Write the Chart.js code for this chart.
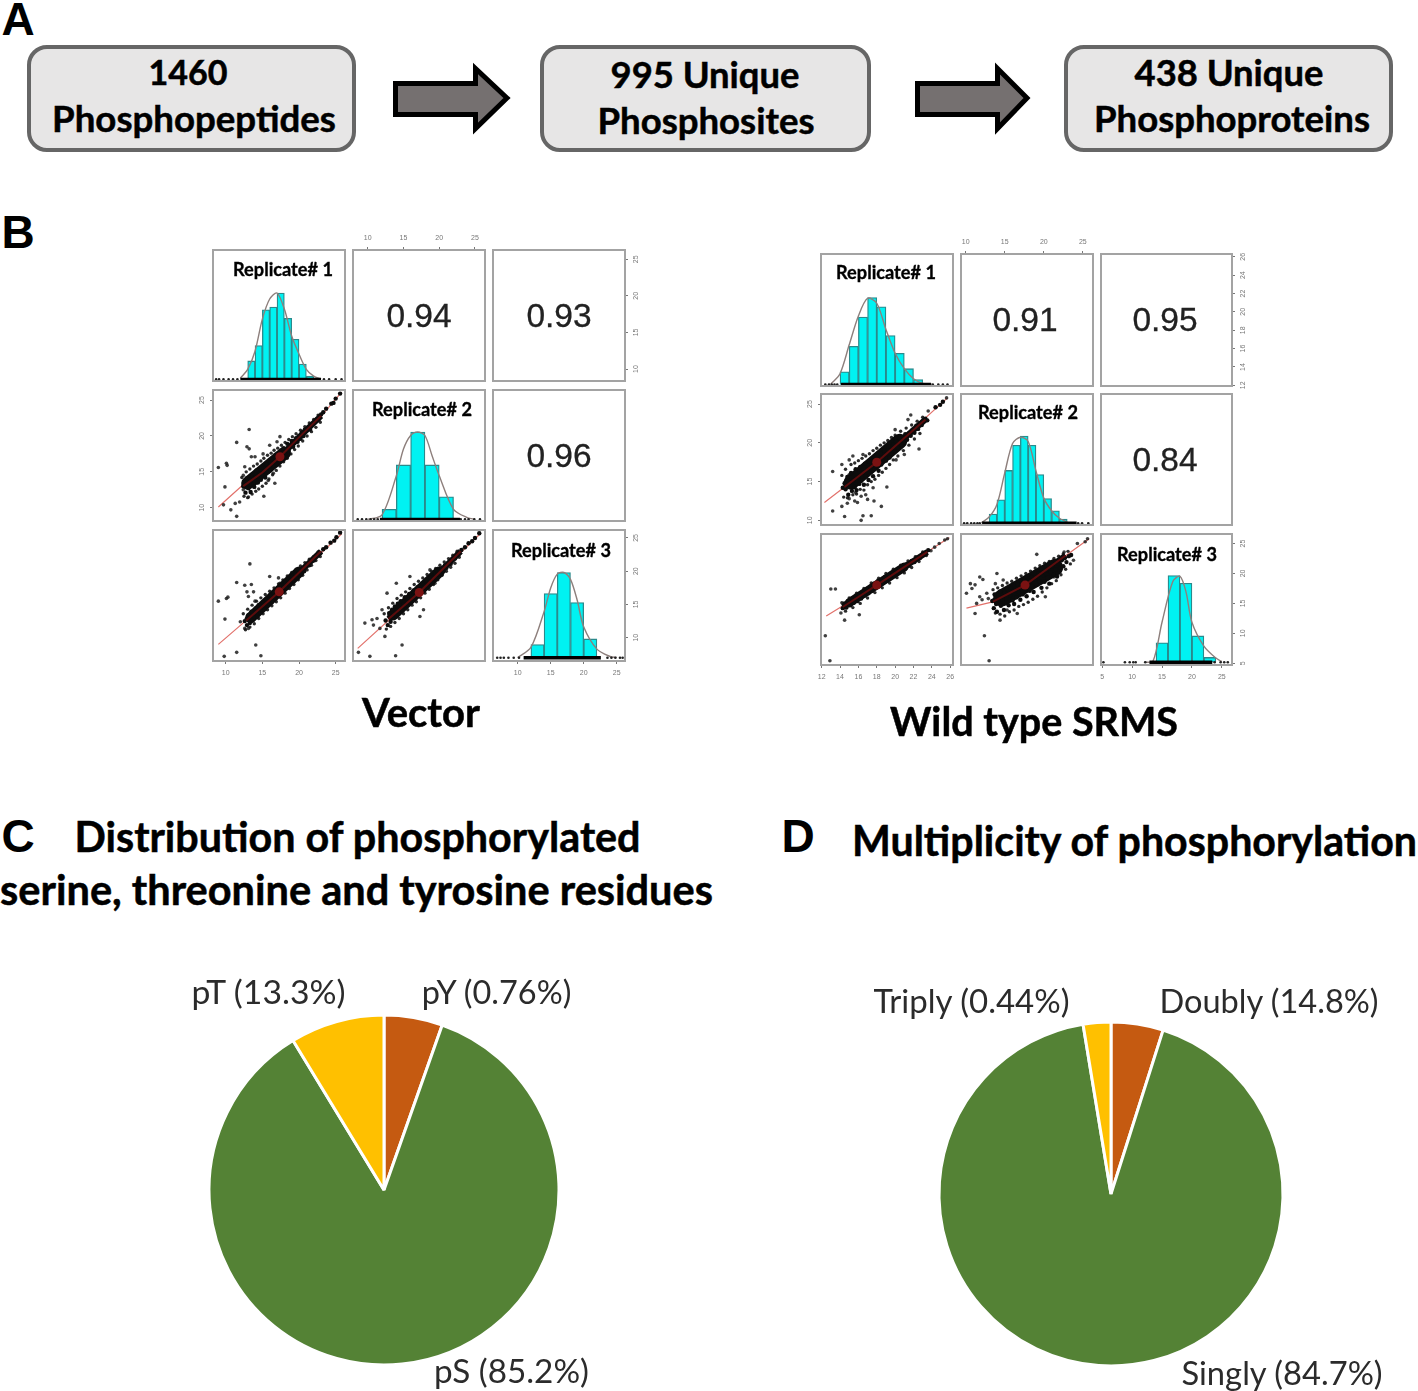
<!DOCTYPE html>
<html>
<head>
<meta charset="utf-8">
<title>Phosphoproteomics overview</title>
<script src="https://cdn.jsdelivr.net/npm/chart.js@4"></script>
<style>
  html, body { margin: 0; padding: 0; background: #fff; }
  #page { position: relative; width: 1418px; height: 1391px; overflow: hidden; background: #fff; }
  #page canvas { position: absolute; }
  .panel { filter: blur(0.7px); }
  .txt { position: absolute; white-space: nowrap; line-height: 1; transform: translate(-50%, -50%); }
  .box { position: absolute; box-sizing: border-box; top: 45px; height: 107px; background: #e7e6e6; border: 4px solid #666; border-radius: 20px; }
  svg { position: absolute; left: 0; top: 0; }
</style>
</head>
<body>
<div id="page">
  <div class="box" style="left:27px;width:329px"></div>
  <div class="box" style="left:540px;width:331px"></div>
  <div class="box" style="left:1064px;width:329px"></div>
  <svg width="1418" height="160">
    <path d="M395.5 83.5 H475.5 V68.5 L507 98 L475.5 128.5 V114.5 H395.5 Z" fill="#757070" stroke="#000" stroke-width="5"/>
    <path d="M917.5 83.5 H997.5 V68.5 L1027 98 L997.5 128.5 V114.5 H917.5 Z" fill="#757070" stroke="#000" stroke-width="5"/>
  </svg>
</div>
<script>
// ---- panel A, titles and labels: text, centre x, centre y, width
var flowLabels = [
  ["1460", 188, 72, 79], ["Phosphopeptides", 194, 118, 284],
  ["995 Unique", 705, 74, 189], ["Phosphosites", 706, 120, 217],
  ["438 Unique", 1229, 72, 189], ["Phosphoproteins", 1232, 118, 276],
  ["Vector", 421, 712, 118], ["Wild type SRMS", 1034, 721, 288],
  ["Distribution of phosphorylated", 357.5, 837, 567],
  ["serine, threonine and tyrosine residues", 356.5, 890, 713],
  ["Multiplicity of phosphorylation", 1134.5, 841, 567]
];
var panelLetters = [["A", 18, 19], ["B", 18, 232], ["C", 18, 836], ["D", 798, 836]];
var pieLabels = [
  ["pT (13.3%)", 268.5, 992, 155], ["pY (0.76%)", 496.5, 992, 151], ["pS (85.2%)", 511.5, 1371, 155],
  ["Triply (0.44%)", 971.5, 1001, 197], ["Doubly (14.8%)", 1269, 1001, 220], ["Singly (84.7%)", 1282, 1373, 202]
];
var replicateLabels = [
  ["Replicate# 1", 283, 269], ["Replicate# 2", 422, 409], ["Replicate# 3", 561, 550],
  ["Replicate# 1", 886, 272], ["Replicate# 2", 1028, 412], ["Replicate# 3", 1167, 554]
];
var corrLabels = [
  ["0.94", 419, 316], ["0.93", 559, 316], ["0.96", 559, 456],
  ["0.91", 1025, 320], ["0.95", 1165, 320], ["0.84", 1165, 460]
];

// ---- pies, slice sizes as drawn, clockwise from 12 o'clock
var pieColors = ["#C55A11", "#548235", "#FFC000"];
var residueSlices = [5.4, 85.9, 8.7];
var multiplicitySlices = [4.9, 92.5, 2.6];

// ---- axis ticks
var ticks5 = [10, 15, 20, 25];
var wildCol1Ticks = [12, 14, 16, 18, 20, 22, 24, 26];
var wildCol3Ticks = [5, 10, 15, 20, 25];

// ---- histograms: bin centres, counts, density curve
var vec1Bins = [13.5, 14.5, 15.5, 16.5, 17.5, 18.5, 19.5, 20.5, 21.5];
var vec1Counts = [46, 84, 173, 180, 215, 152, 100, 38, 8];
var vec1Curve = [[12, 3], [13, 25], [14, 70], [15, 150], [16, 200], [17, 215], [18, 175], [19, 108], [20, 63], [21, 25], [22, 8], [23, 1]];
var vec1Rug = [8.7, 9.1, 9.7, 10.4, 11.0, 11.6, 23.4, 24.1, 25.0, 25.8];
var vec1Band = [[12.0, 0], [23.0, 0]];

var vec2Bins = [13, 15, 17, 19, 21];
var vec2Counts = [44, 237, 380, 237, 98];
var vec2Curve = [[10, 0], [12, 20], [14, 190], [15, 306], [16, 365], [17, 380], [18, 365], [19, 277], [20, 190], [22, 44], [24, 7], [25, 1]];
var vec2Rug = [8.6, 9.2, 9.8, 10.4, 10.9, 11.4, 23.0, 23.6, 24.1, 24.9, 25.7];
var vec2Band = [[11.7, 0], [22.9, 0]];

var vec3Bins = [13, 15, 17, 19, 21];
var vec3Counts = [55, 270, 359, 232, 79];
var vec3Curve = [[10, 0], [12, 43], [14, 194], [15, 294], [16, 352], [17, 359], [18, 330], [19, 244], [20, 130], [22, 36], [24, 5], [25, 1]];
var vec3Rug = [6.9, 7.4, 7.9, 8.6, 9.4, 10.2, 23.6, 24.2, 24.8, 25.5, 25.9];
var vec3Band = [[10.9, 0], [22.6, 0]];

var wild1Bins = [14.5, 15.5, 16.5, 17.5, 18.5, 19.5, 20.5, 21.5, 22.5];
var wild1Counts = [33, 99, 175, 226, 202, 127, 81, 41, 13];
var wild1Curve = [[13, 1], [14, 28], [15, 103], [16, 178], [17, 224], [18, 211], [19, 143], [20, 81], [21, 41], [22, 15], [23, 3], [24, 1]];
var wild1Rug = [12.4, 12.8, 13.1, 13.4, 13.7, 24.1, 24.7, 25.2, 25.7];
var wild1Band = [[14.1, 0], [23.9, 0]];

var wild2Bins = [13.5, 14.5, 15.5, 16.5, 17.5, 18.5, 19.5, 20.5, 21.5, 22.5];
var wild2Counts = [22, 56, 126, 186, 208, 186, 116, 59, 30, 10];
var wild2Curve = [[12, 1], [13, 15], [14, 45], [15, 120], [16, 190], [17, 205], [18, 195], [19, 125], [20, 60], [21, 30], [22, 12], [23, 3]];
var wild2Rug = [9.8, 10.2, 10.7, 11.1, 11.5, 11.8, 24.4, 24.9, 25.7];
var wild2Band = [[12.1, 0], [24.2, 0]];

var wild3Bins = [15, 17, 19, 21, 23];
var wild3Counts = [89, 399, 364, 121, 22];
var wild3Curve = [[12, 0], [13.5, 5], [15, 184], [16.8, 372], [18, 396], [19, 325], [20, 184], [22, 74], [24, 19], [25, 3]];
var wild3Rug = [5.2, 8.8, 9.6, 10.2, 10.6, 12.2, 23.8, 24.8, 25.4, 26.0];
var wild3Band = [[12.9, 0], [23.4, 0]];

// ---- scatters: isolated points, the dense cloud and its edge
var v21Out = [[9.0,15.6],[9.9,12.9],[10.1,16.2],[10.2,15.9],[11.5,19.1],[13.2,20.9],[10.7,9.7],[11.5,8.8],[9.7,10.4],[11.3,10.6],[11.9,10.8],[13.1,11.5],[15.2,11.6],[12.4,12.5],[12.9,18.5],[13.2,18.2],[16.0,18.7],[15.1,17.5],[17.0,19.2],[17.4,19.9],[12.4,14.5],[12.6,15.7],[13.5,17.1],[14.0,17.1],[14.2,13.4],[15.8,13.8],[16.5,14.8],[16.7,13.4]];
var v21Core = [[12.4,13.0],[12.7,12.1],[12.9,14.1],[13.1,12.7],[13.3,13.9],[13.4,12.2],[13.6,14.6],[13.8,13.2],[13.9,12.9],[14.1,14.3],[14.2,15.2],[14.4,13.5],[14.6,14.8],[14.8,13.9],[14.9,15.6],[15.1,14.5],[15.3,15.1],[15.4,14.2],[15.6,16.0],[15.8,15.0],[16.0,15.8],[16.1,15.2],[16.3,16.7],[16.5,15.9],[16.7,16.4],[16.8,17.4],[17.0,16.1],[17.2,17.0],[17.4,17.7],[17.5,16.6],[17.7,17.3],[17.9,18.3],[18.1,17.4],[18.3,18.0],[18.4,18.9],[18.6,17.9],[18.8,18.5],[19.0,19.3],[19.2,18.5],[19.4,19.1],[19.6,19.7],[19.8,19.2],[20.0,20.0],[20.2,19.6],[20.4,20.5],[20.6,20.0],[20.8,20.9],[21.0,20.7],[21.3,21.3],[21.5,20.9],[21.8,21.7],[22.1,21.9],[22.4,22.3],[22.7,22.4],[23.0,23.0],[23.3,23.3],[23.7,23.8],[24.4,24.5],[24.7,24.6],[25.0,25.2],[25.6,25.9]];
var v21Edge = [[12.2,14.2],[12.5,11.6],[12.8,15.0],[13.0,11.4],[13.3,15.4],[13.6,11.9],[13.8,15.8],[14.1,12.3],[14.3,16.1],[14.5,12.6],[14.8,16.5],[15.0,13.0],[15.2,16.9],[15.5,13.4],[15.7,17.3],[15.9,14.0],[16.2,17.6],[16.4,14.6],[16.6,18.0],[16.9,15.2],[17.1,18.3],[17.4,15.8],[17.6,18.7],[17.9,16.4],[18.1,19.1],[18.4,16.9],[18.6,19.5],[18.9,17.5],[19.1,19.9],[19.4,18.1],[19.6,20.3],[19.9,18.6],[20.2,20.8],[20.5,19.3],[20.8,21.3],[21.1,20.0],[21.4,21.8],[21.7,20.6],[22.0,22.3],[22.3,21.2],[22.6,22.9],[22.9,21.9]];
var v21Spine = [[12.4,13],[15,14.9],[17.4,17.1],[20,19.8],[23,22.8]];
var v21Body = [[13,13.4],[18,17.6]];
var v21Fit = [[9,10.1],[12.6,13.4],[17.4,17.1],[22.9,22.6],[25.8,26.1]];
var v21Mean = [[17.4,17.1]];

var v31Out = [[9.0,15.5],[9.9,12.8],[10.1,15.9],[10.3,16.1],[11.5,18.3],[13.3,21.1],[9.8,7.2],[11.5,7.8],[14.1,8.9],[14.8,7.3],[12.6,17.9],[13.5,18.0],[12.9,16.9],[13.8,16.9],[13.1,16.2],[14.0,15.5],[12.0,12.4],[12.6,11.4],[13.1,11.4],[16.0,19.2],[17.2,19.0],[17.4,18.2]];
var v31Core = [[12.6,12.5],[12.9,11.9],[13.1,13.4],[13.3,12.2],[13.5,13.9],[13.7,12.7],[13.9,13.1],[14.1,14.4],[14.3,13.2],[14.5,14.9],[14.7,13.8],[14.9,14.2],[15.1,15.3],[15.3,14.3],[15.5,15.7],[15.7,14.9],[15.9,15.2],[16.1,16.4],[16.3,15.4],[16.5,16.8],[16.7,16.0],[16.9,16.4],[17.1,17.5],[17.3,16.4],[17.5,17.9],[17.7,17.0],[17.9,17.6],[18.1,18.5],[18.3,17.5],[18.5,18.8],[18.7,18.0],[18.9,18.6],[19.1,19.3],[19.3,18.6],[19.5,19.6],[19.7,19.0],[19.9,19.5],[20.1,20.2],[20.3,19.7],[20.5,20.5],[20.7,20.0],[20.9,20.6],[21.1,21.1],[21.4,20.9],[21.7,21.5],[22.0,21.6],[22.3,22.3],[22.6,22.4],[22.9,22.7],[23.3,23.3],[23.7,23.6],[24.3,24.3],[24.8,24.6],[25.1,25.1],[25.6,25.8]];
var v31Edge = [[12.4,13.6],[12.7,11.2],[13.0,14.3],[13.3,11.6],[13.6,14.9],[13.9,12.1],[14.2,15.5],[14.5,12.9],[14.8,16.0],[15.1,13.6],[15.4,16.5],[15.7,14.2],[16.0,17.0],[16.3,14.8],[16.6,17.5],[16.9,15.4],[17.2,18.1],[17.5,16.0],[17.8,18.7],[18.1,16.7],[18.4,19.3],[18.7,17.4],[19.0,19.8],[19.3,18.0],[19.6,20.3],[19.9,18.7],[20.2,20.8],[20.5,19.4],[20.8,21.3],[21.1,20.2],[21.4,21.8],[21.7,20.9],[22.0,22.2],[22.3,21.6],[22.6,22.9],[22.9,22.2]];
var v31Spine = [[12.8,12.6],[17.3,16.9],[23,23]];
var v31Body = [[13.4,13],[20,19.9]];
var v31Fit = [[9,9],[17.3,16.9],[25.8,25.6]];
var v31Mean = [[17.3,16.9]];

var v32Out = [[8.7,7.8],[10.3,7.2],[13.9,7.3],[14.8,8.9],[12.4,10.2],[9.6,12.2],[10.6,12.7],[10.8,11.9],[11.7,11.4],[11.3,12.9],[12.0,14.2],[12.7,16.7],[14.0,18.2],[15.9,19.2],[18.7,20.2],[19.4,18.2],[17.8,14.2],[17.3,13.2]];
var v32Core = [[12.5,12.6],[12.8,11.9],[13.0,13.7],[13.2,12.4],[13.4,14.2],[13.6,13.0],[13.8,14.7],[14.0,13.3],[14.2,15.1],[14.4,13.9],[14.6,15.5],[14.8,14.3],[15.0,15.0],[15.2,16.1],[15.4,14.8],[15.6,15.7],[15.8,16.6],[16.0,15.3],[16.2,16.3],[16.4,17.1],[16.6,15.9],[16.8,16.8],[17.0,17.6],[17.2,16.4],[17.4,17.2],[17.6,18.1],[17.8,17.0],[18.0,17.8],[18.2,18.6],[18.4,17.7],[18.6,18.3],[18.8,19.1],[19.0,18.3],[19.2,18.9],[19.4,19.6],[19.6,19.0],[19.8,19.5],[20.0,20.1],[20.2,19.6],[20.4,20.5],[20.6,20.0],[20.8,20.9],[21.0,20.5],[21.3,21.3],[21.6,21.1],[21.9,21.8],[22.2,21.9],[22.5,22.6],[22.8,22.7],[23.1,23.2],[23.6,23.6],[24.1,24.2],[24.6,24.5],[25.0,25.0],[25.6,25.7]];
var v32Edge = [[12.3,13.6],[12.6,11.3],[12.9,14.5],[13.2,11.7],[13.5,15.2],[13.8,12.3],[14.1,15.9],[14.4,12.9],[14.7,16.4],[15.0,13.6],[15.3,16.9],[15.6,14.2],[15.9,17.4],[16.2,14.9],[16.5,18.0],[16.8,15.4],[17.1,18.5],[17.4,16.0],[17.7,19.0],[18.0,16.7],[18.3,19.5],[18.6,17.3],[18.9,20.0],[19.2,18.0],[19.5,20.4],[19.8,18.7],[20.1,20.9],[20.4,19.4],[20.7,21.4],[21.0,20.0],[21.3,21.9],[21.6,20.6],[21.9,22.4],[22.2,21.2],[22.5,23.0],[22.8,22.1]];
var v32Spine = [[12.9,12.8],[17.2,16.8],[23,23]];
var v32Body = [[13.5,13.4],[20,19.9]];
var v32Fit = [[8.6,8.4],[17.2,16.8],[25.7,25.6]];
var v32Mean = [[17.2,16.8]];

var w21Out = [[13.2,16.3],[14.2,17.2],[13.2,11.2],[14.2,11.8],[14.5,10.5],[14.8,12.2],[15.0,12.8],[15.6,12.5],[15.9,12.3],[16.3,13.1],[16.8,13.3],[17.7,12.5],[18.5,11.8],[16.3,10.0],[16.5,10.6],[17.4,10.6],[19.1,14.3],[20.1,17.8],[21.0,18.5],[22.6,19.2],[20.0,21.7],[21.4,23.0],[21.7,23.6],[23.6,24.1],[25.6,25.8],[15.0,17.8],[15.4,18.3],[16.5,18.5],[15.7,13.6],[17.0,12.7],[17.6,14.2]];
var w21Core = [[14.3,14.2],[14.5,14.8],[14.6,14.0],[14.8,15.6],[14.9,13.3],[15.1,14.9],[15.2,16.1],[15.3,13.8],[15.5,15.2],[15.6,14.3],[15.7,16.6],[15.8,13.9],[16.0,15.6],[16.1,14.7],[16.2,16.9],[16.3,15.1],[16.5,16.2],[16.6,14.6],[16.7,17.3],[16.8,15.7],[17.0,16.6],[17.1,15.2],[17.2,17.6],[17.4,16.3],[17.5,17.0],[17.6,15.7],[17.8,18.1],[17.9,16.9],[18.1,17.6],[18.2,16.4],[18.4,18.6],[18.5,17.2],[18.7,18.0],[18.8,19.0],[19.0,17.7],[19.1,18.5],[19.3,19.5],[19.4,18.1],[19.6,19.0],[19.8,19.8],[20.0,18.9],[20.1,20.2],[20.3,19.4],[20.5,20.6],[20.7,19.8],[20.9,20.3],[21.1,21.1],[21.3,20.4],[21.5,21.2],[21.7,20.9],[21.9,21.7],[22.1,21.3],[22.3,22.2],[22.5,21.8],[22.7,22.5],[22.9,22.3],[23.1,22.9],[23.3,23.1],[23.5,22.9],[24.4,24.6],[24.9,24.9],[25.2,25.3]];
var w21Edge = [[14.2,15.8],[14.4,13.0],[14.6,16.6],[14.8,12.9],[15.0,15.9],[15.2,17.2],[15.4,13.3],[15.6,17.4],[15.8,13.4],[16.0,17.7],[16.2,14.0],[16.4,18.0],[16.6,13.9],[16.8,18.3],[17.0,14.6],[17.2,18.6],[17.4,15.0],[17.6,19.0],[17.8,15.3],[18.0,19.3],[18.2,15.8],[18.4,19.7],[18.6,16.2],[18.8,20.0],[19.0,16.7],[19.2,20.3],[19.4,17.2],[19.6,20.7],[19.8,17.8],[20.0,21.0],[20.3,18.3],[20.6,21.5],[20.9,19.0],[21.2,21.9],[21.5,19.7],[21.8,22.3],[22.1,20.5],[22.4,22.8],[22.7,21.2],[23.0,23.3]];
var w21Spine = [[14.5,14.3],[18,17.5],[23.3,23]];
var w21Body = [[15.2,14.9],[20.5,20.2]];
var w21Fit = [[12.3,12.3],[18,17.5],[25.7,25.8]];
var w21Mean = [[18,17.5]];

var w31Out = [[12.4,9.6],[12.9,5.4],[13.0,17.4],[13.5,17.4],[14.5,12.2],[16.1,13.1],[14.1,13.4],[24.8,25],[25.4,25.6],[24.3,24.4],[25.7,25.8],[23.9,23.8]];
var w31Core = [[14.3,14.2],[14.5,15.0],[14.7,14.3],[14.9,15.4],[15.1,14.7],[15.3,15.8],[15.5,15.1],[15.7,16.2],[15.9,15.4],[16.1,16.5],[16.3,15.8],[16.5,16.9],[16.7,16.3],[16.9,17.3],[17.1,16.7],[17.3,17.8],[17.5,17.1],[17.7,18.3],[17.9,17.6],[18.1,18.7],[18.3,18.0],[18.5,18.9],[18.7,18.4],[18.9,19.4],[19.1,18.8],[19.3,19.7],[19.5,19.2],[19.7,20.1],[19.9,19.6],[20.1,20.5],[20.3,20.1],[20.5,20.8],[20.7,20.4],[20.9,21.2],[21.1,20.9],[21.3,21.6],[21.5,21.3],[21.8,22.1],[22.1,21.9],[22.4,22.7],[22.7,22.6],[23.0,23.2],[23.3,23.3],[23.6,23.9]];
var w31Edge = [[14.2,15.1],[14.6,13.7],[15.0,15.9],[15.4,14.3],[15.8,16.7],[16.2,15.0],[16.6,17.5],[17.0,15.9],[17.4,18.4],[17.8,16.8],[18.2,19.2],[18.6,17.6],[19.0,20.0],[19.4,18.4],[19.8,20.7],[20.2,19.3],[20.6,21.4],[21.0,20.1],[21.4,22.1],[21.8,21.0],[22.2,22.8],[22.6,22.0],[23.0,23.6],[23.4,23.0]];
var w31Spine = [[14.3,14.4],[18,18.06],[23.5,23.6]];
var w31Body = [[15,15.1],[21,21.1]];
var w31Fit = [[12.5,12.9],[18,18.06],[25.9,26]];
var w31Mean = [[18,18.06]];

var w32Out = [[12.4,9.6],[13,5.4],[10.6,18.3],[11.2,18.1],[10.1,16.7],[10.8,17.5],[11.8,19.4],[12.2,19],[11.4,15],[12.1,15.6],[11.2,13.3],[12.7,16.7],[14,20],[14.4,12.2],[16.6,13.3],[19.1,23.2],[22.6,23.6],[23.8,22.2],[24.3,25],[25.3,25.3],[25.6,25.8],[11.8,16.1],[12.9,15.8],[15.3,13.9],[14.8,18.9],[13.8,18.3],[20.2,16.1],[21.3,19.4]];
var w32Core = [[13.4,15.4],[13.6,14.2],[13.7,16.5],[13.9,14.9],[14.0,13.6],[14.2,16.0],[14.4,17.0],[14.5,14.6],[14.7,15.7],[14.9,13.9],[15.0,16.7],[15.2,15.2],[15.3,17.4],[15.5,14.7],[15.7,16.3],[15.8,17.6],[16.0,15.5],[16.2,14.9],[16.3,17.1],[16.5,16.0],[16.6,18.2],[16.8,16.8],[17.0,15.6],[17.1,17.7],[17.3,16.5],[17.5,18.8],[17.6,17.3],[17.8,16.2],[18.0,18.4],[18.2,17.1],[18.4,19.4],[18.5,17.9],[18.7,16.9],[18.9,19.0],[19.1,18.1],[19.3,20.0],[19.5,18.7],[19.7,17.6],[19.9,19.6],[20.1,18.6],[20.3,20.5],[20.5,19.3],[20.7,18.3],[20.9,20.2],[21.1,21.2],[21.3,19.8],[21.5,20.7],[21.7,19.5],[21.9,21.6],[22.1,20.9],[22.3,22.2],[22.5,21.2],[22.7,22.6],[22.9,21.9],[23.2,22.9],[23.5,23.1]];
var w32Edge = [[13.5,17.3],[13.8,13.4],[14.1,17.6],[14.4,13.2],[14.7,18.0],[15.0,12.9],[15.3,18.4],[15.6,13.6],[15.9,18.7],[16.2,13.9],[16.5,19.2],[16.8,14.5],[17.1,19.6],[17.4,14.8],[17.7,20.0],[18.0,15.2],[18.3,20.4],[18.6,15.7],[18.9,20.9],[19.2,16.2],[19.5,21.3],[19.8,16.9],[20.1,21.7],[20.4,17.6],[20.7,22.0],[21.0,18.3],[21.3,22.5],[21.6,18.8],[21.9,22.9],[22.2,19.8],[22.5,23.3],[22.8,20.7],[23.1,23.7],[23.4,21.6]];
var w32Spine = [[13.5,15.3],[17.6,18.06],[22.8,23]];
var w32Body = [[14.6,15.9],[21.4,21.0]];
var w32Fit = [[10.1,14.2],[13.6,15.3],[17.6,18.06],[25.8,25.8]];
var w32Mean = [[17.6,18.06]];

// ---- helpers
var page = document.getElementById("page");
var measure = document.createElement("canvas").getContext("2d");
var MARGIN = 34;
var AXIS_SIZE = 20;

function addText(text, cx, cy, size, family, weight, color, stroke) {
    var d = document.createElement("div");
    d.className = "txt";
    d.textContent = text;
    d.style.left = cx + "px";
    d.style.top = cy + "px";
    d.style.fontFamily = family;
    d.style.fontWeight = weight;
    d.style.fontSize = size + "px";
    d.style.color = color;
    if (stroke) d.style.webkitTextStroke = stroke + "px " + color;
    page.appendChild(d);
}

// font size is picked so the text is as wide as in the picture
function addFitted(item, family, weight, color, stroke) {
    measure.font = weight + " 100px " + family;
    var size = 100 * item[3] / measure.measureText(item[0]).width;
    addText(item[0], item[1], item[2], size, family, weight, color, stroke);
}

function toPoints(list) {
    return list.map(function (p) { return { x: p[0], y: p[1] }; });
}

function axis(pos, range, tickValues) {
    var vertical = pos === "left" || pos === "right";
    return {
        type: "linear",
        axis: vertical ? "y" : "x",
        position: pos,
        min: range[0],
        max: range[1],
        display: !!tickValues,
        offset: false,
        afterBuildTicks: function (scale) {
            if (tickValues) scale.ticks = tickValues.map(function (v) { return { value: v }; });
        },
        afterFit: function (scale) {
            var s = tickValues ? AXIS_SIZE : 0;
            if (vertical) scale.width = s; else scale.height = s;
        },
        border: { display: false },
        grid: { drawOnChartArea: false, drawTicks: true, tickLength: 3, color: "#777", offset: false },
        ticks: {
            autoSkip: false,
            minRotation: vertical ? 90 : 0,
            maxRotation: vertical ? 90 : 0,
            crossAlign: vertical ? "center" : "near",
            padding: vertical ? 4.5 : 5,
            color: "#777",
            font: { family: "Liberation Sans", size: 7 },
            callback: function (v) { return String(v); }
        }
    };
}

var panelFrame = {
    id: "panelFrame",
    afterDraw: function (chart) {
        var a = chart.chartArea, c = chart.ctx;
        c.save();
        c.strokeStyle = "#a3a3a3";
        c.lineWidth = 2;
        c.strokeRect(a.left, a.top, a.right - a.left, a.bottom - a.top);
        c.restore();
    }
};

// extraY is an optional second vertical axis, not used by any dataset
function addPanel(box, xCfg, yCfg, datasets, extraY) {
    var cv = document.createElement("canvas");
    var w = box[2] - box[0] + 2 * MARGIN, h = box[3] - box[1] + 2 * MARGIN;
    cv.width = w;
    cv.height = h;
    cv.className = "panel";
    cv.style.left = (box[0] - MARGIN) + "px";
    cv.style.top = (box[1] - MARGIN) + "px";
    page.appendChild(cv);
    var scales = { x: xCfg, y: yCfg };
    if (extraY) scales.y2 = extraY;
    var pad = { left: MARGIN, right: MARGIN, top: MARGIN, bottom: MARGIN };
    Object.keys(scales).forEach(function (k) {
        if (scales[k].display) pad[scales[k].position] -= AXIS_SIZE;
    });
    return new Chart(cv.getContext("2d"), {
        type: "scatter",
        data: { datasets: datasets },
        options: {
            responsive: false,
            animation: false,
            layout: { padding: pad },
            plugins: { legend: { display: false }, tooltip: { enabled: false } },
            scales: scales
        },
        plugins: [panelFrame]
    });
}

function histSets(bins, counts, curve, rug, band) {
    return [
        { type: "line", order: 1, data: toPoints(band), borderColor: "#000", borderWidth: 3.5, pointRadius: 0 },
        { type: "scatter", order: 2, data: rug.map(function (v) { return { x: v, y: 0 }; }), backgroundColor: "#222", borderWidth: 0, pointRadius: 1.3 },
        { type: "line", order: 3, data: toPoints(curve), borderColor: "#8d7f7c", borderWidth: 1.4, pointRadius: 0, tension: 0.3 },
        {
            type: "bar", order: 4,
            data: bins.map(function (b, i) { return { x: b, y: counts[i] }; }),
            backgroundColor: "#00f2f2", borderColor: "#2a8a8c", borderWidth: 1.3, borderSkipped: false,
            barPercentage: 1, categoryPercentage: 1
        }
    ];
}

function scatterSets(out, core, edge, spine, body, bodyWidth, fit, mean) {
    return [
        { type: "scatter", order: 1, data: toPoints(mean), backgroundColor: "#7a1212", borderWidth: 0, pointRadius: 4.5 },
        { type: "line", order: 2, data: toPoints(spine), borderColor: "#5c0c0c", borderWidth: 2, pointRadius: 0 },
        { type: "scatter", order: 3, data: toPoints(core), backgroundColor: "#0c0c0c", borderWidth: 0, pointRadius: 2.2 },
        { type: "line", order: 4, data: toPoints(body), borderColor: "#0c0c0c", borderWidth: bodyWidth, borderCapStyle: "round", pointRadius: 0 },
        { type: "line", order: 5, data: toPoints(spine), borderColor: "#0c0c0c", borderWidth: 6, pointRadius: 0 },
        { type: "scatter", order: 6, data: toPoints(edge), backgroundColor: "rgba(20,20,20,0.9)", borderWidth: 0, pointRadius: 1.7 },
        { type: "scatter", order: 7, data: toPoints(out), backgroundColor: "rgba(30,30,30,0.85)", borderWidth: 0, pointRadius: 1.8 },
        { type: "line", order: 8, data: toPoints(fit), borderColor: "#e2716b", borderWidth: 1.2, pointRadius: 0 }
    ];
}

// ---- Vector matrix
var vCols = [[213, 345], [353, 485], [493, 625]];
var vRows = [[250, 381], [390, 521], [530, 661]];
var vX = [[8.27, 26.27], [7.94, 26.4], [6.26, 26.26]];
var vY = [[8.36, 26.27], [8.15, 26.4], [6.5, 26.2]];
function vBox(r, c) { return [vCols[c][0], vRows[r][0], vCols[c][1], vRows[r][1]]; }

addPanel(vBox(0, 0), axis("bottom", vX[0]), axis("left", [-4, 322]), histSets(vec1Bins, vec1Counts, vec1Curve, vec1Rug, vec1Band));
addPanel(vBox(0, 1), axis("top", vX[1], ticks5), axis("left", vY[0]), []);
addPanel(vBox(0, 2), axis("top", vX[2]), axis("right", vY[0], ticks5), []);
addPanel(vBox(1, 0), axis("bottom", vX[0]), axis("left", vY[1], ticks5), scatterSets(v21Out, v21Core, v21Edge, v21Spine, v21Body, 13, v21Fit, v21Mean));
addPanel(vBox(1, 1), axis("bottom", vX[1]), axis("left", [-7, 563]), histSets(vec2Bins, vec2Counts, vec2Curve, vec2Rug, vec2Band));
addPanel(vBox(1, 2), axis("bottom", vX[2]), axis("right", vY[1]), []);
addPanel(vBox(2, 0), axis("bottom", vX[0], ticks5), axis("left", vY[2]), scatterSets(v31Out, v31Core, v31Edge, v31Spine, v31Body, 11, v31Fit, v31Mean));
addPanel(vBox(2, 1), axis("bottom", vX[1]), axis("left", vY[2]), scatterSets(v32Out, v32Core, v32Edge, v32Spine, v32Body, 11, v32Fit, v32Mean));
addPanel(vBox(2, 2), axis("bottom", vX[2], ticks5), axis("left", [-14, 538]), histSets(vec3Bins, vec3Counts, vec3Curve, vec3Rug, vec3Band), axis("right", vY[2], ticks5));

// ---- Wild type matrix
var wCols = [[821, 953], [961, 1093], [1101, 1232]];
var wRows = [[254, 386], [394, 525], [534, 665]];
var wX = [[11.93, 26.3], [9.4, 26.3], [4.8, 26.7]];
var wY = [[11.93, 26.3], [9.4, 26.3], [4.7, 26.6]];
function wBox(r, c) { return [wCols[c][0], wRows[r][0], wCols[c][1], wRows[r][1]]; }

addPanel(wBox(0, 0), axis("bottom", wX[0]), axis("left", [-4, 339]), histSets(wild1Bins, wild1Counts, wild1Curve, wild1Rug, wild1Band));
addPanel(wBox(0, 1), axis("top", wX[1], ticks5), axis("left", wY[0]), []);
addPanel(wBox(0, 2), axis("top", wX[2]), axis("right", wY[0], wildCol1Ticks), []);
addPanel(wBox(1, 0), axis("bottom", wX[0]), axis("left", wY[1], ticks5), scatterSets(w21Out, w21Core, w21Edge, w21Spine, w21Body, 15, w21Fit, w21Mean));
addPanel(wBox(1, 1), axis("bottom", wX[1]), axis("left", [-4, 308]), histSets(wild2Bins, wild2Counts, wild2Curve, wild2Rug, wild2Band));
addPanel(wBox(1, 2), axis("bottom", wX[2]), axis("right", wY[1]), []);
addPanel(wBox(2, 0), axis("bottom", wX[0], wildCol1Ticks), axis("left", wY[2]), scatterSets(w31Out, w31Core, w31Edge, w31Spine, w31Body, 9, w31Fit, w31Mean));
addPanel(wBox(2, 1), axis("bottom", wX[1]), axis("left", wY[2]), scatterSets(w32Out, w32Core, w32Edge, w32Spine, w32Body, 17, w32Fit, w32Mean));
addPanel(wBox(2, 2), axis("bottom", wX[2], wildCol3Ticks), axis("left", [-13, 591]), histSets(wild3Bins, wild3Counts, wild3Curve, wild3Rug, wild3Band), axis("right", wY[2], wildCol3Ticks));

// ---- pies
function addPie(cx, cy, r, slices) {
    var cv = document.createElement("canvas");
    var s = 2 * r + 10;
    cv.width = s;
    cv.height = s;
    cv.style.left = (cx - s / 2) + "px";
    cv.style.top = (cy - s / 2) + "px";
    page.appendChild(cv);
    new Chart(cv.getContext("2d"), {
        type: "pie",
        data: { datasets: [{ data: slices, backgroundColor: pieColors, borderColor: "#fff", borderWidth: 3, radius: r + 1 }] },
        options: {
            responsive: false,
            animation: false,
            plugins: { legend: { display: false }, tooltip: { enabled: false } }
        }
    });
}
addPie(384, 1189.5, 174, residueSlices);
addPie(1111, 1194, 171, multiplicitySlices);

// ---- text on top
flowLabels.forEach(function (t) { addFitted(t, "Lato", "bold", "#000", 0.5); });
pieLabels.forEach(function (t) { addFitted(t, "Lato", "normal", "#2b2b2b"); });
replicateLabels.forEach(function (t) { addFitted([t[0], t[1], t[2], 100], "Lato", "bold", "#000", 0.35); });
corrLabels.forEach(function (t) { addText(t[0], t[1], t[2], 33.5, "Liberation Sans", "normal", "#222", 0.3); });
panelLetters.forEach(function (t) { addText(t[0], t[1], t[2], 46, "Liberation Sans", "bold", "#000"); });
</script>
</body>
</html>
